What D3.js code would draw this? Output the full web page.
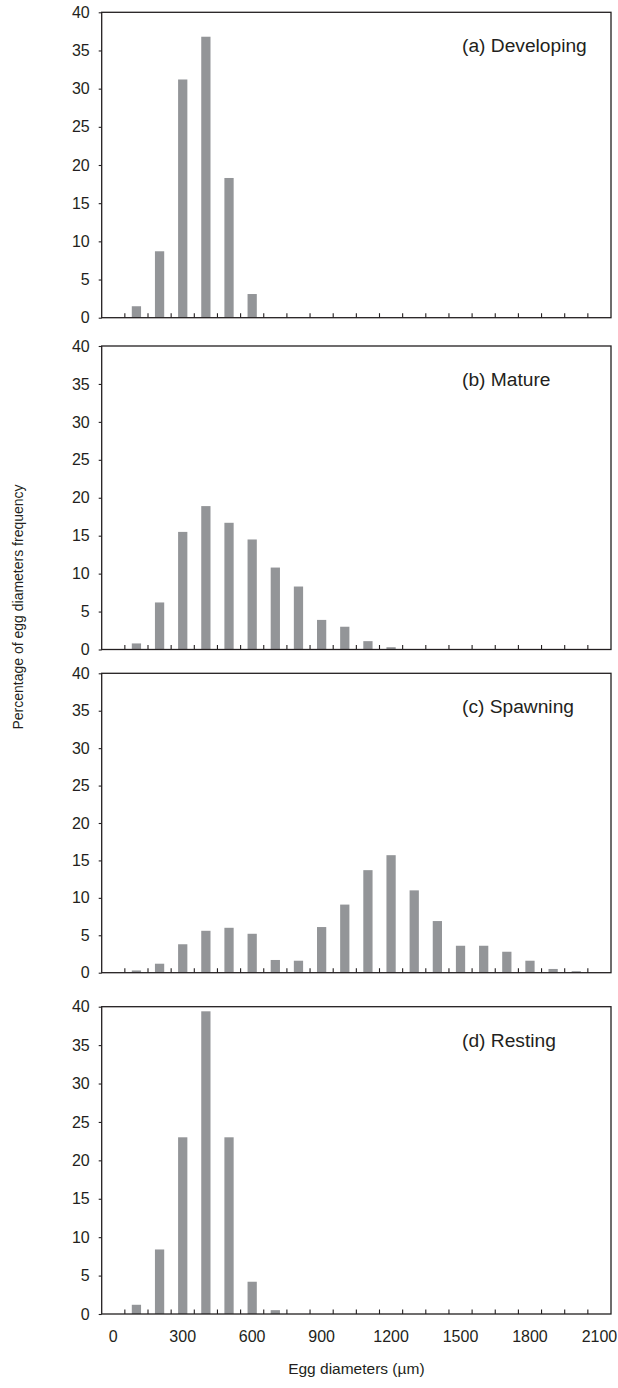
<!DOCTYPE html>
<html>
<head>
<meta charset="utf-8">
<script src="https://cdn.jsdelivr.net/npm/d3@7/dist/d3.min.js"></script>
<style>
  body { margin: 0; background: #fff; }
  svg text { font-family: "Liberation Sans", Arial, sans-serif; fill: #231f20; }
</style>
</head>
<body>
<svg id="chart"></svg>
<script>
// egg diameter classes (um)
let diameters = [0, 100, 200, 300, 400, 500, 600, 700, 800, 900, 1000,
                 1100, 1200, 1300, 1400, 1500, 1600, 1700, 1800, 1900, 2000, 2100];

// % frequency per class, one array per gonad stage
let developing = [0, 1.5, 8.7, 31.2, 36.8, 18.3, 3.1, 0, 0, 0, 0,
                  0, 0, 0, 0, 0, 0, 0, 0, 0, 0, 0];
let mature     = [0, 0.8, 6.2, 15.5, 18.9, 16.7, 14.5, 10.8, 8.3, 3.9, 3.0,
                  1.1, 0.3, 0, 0, 0, 0, 0, 0, 0, 0, 0];
let spawning   = [0, 0.3, 1.2, 3.8, 5.6, 6.0, 5.2, 1.7, 1.6, 6.1, 9.1,
                  13.7, 15.7, 11.0, 6.9, 3.6, 3.6, 2.8, 1.6, 0.5, 0.2, 0];
let resting    = [0, 1.2, 8.4, 23.0, 39.4, 23.0, 4.2, 0.5, 0, 0, 0,
                  0, 0, 0, 0, 0, 0, 0, 0, 0, 0, 0];

let stageLabels = ['(a) Developing', '(b) Mature', '(c) Spawning', '(d) Resting'];
let yTicks = [0, 5, 10, 15, 20, 25, 30, 35, 40];
let xLabelled = [0, 300, 600, 900, 1200, 1500, 1800, 2100];

let w = 618, h = 1388;
let left = 101.7, right = 611;
let ink = '#231f20', barColor = '#939598';

// vertical placement of each panel (top, bottom of plot box)
let panels = [
    {values: developing, top: 12.3,   bottom: 317.7},
    {values: mature,     top: 346,    bottom: 649.5},
    {values: spawning,   top: 673.3,  bottom: 972.7},
    {values: resting,    top: 1006.7, bottom: 1314}
];

let svg = d3.select('#chart')
    .attr('width', w)
    .attr('height', h);

let x = d3.scaleBand()
    .domain(diameters)
    .range([left, right])
    .paddingInner(0.6)
    .paddingOuter(0.3);

let step = x.step();

panels.forEach((p, i) => {

    let y = d3.scaleLinear()
        .domain([0, 40])
        .range([p.bottom, p.top]);

    let g = svg.append('g').attr('class', 'panel');

    // bars
    g.selectAll('rect.bar')
        .data(diameters.map((d, k) => ({d: d, v: p.values[k]})).filter(e => e.v > 0))
        .enter()
        .append('rect')
        .attr('class', 'bar')
        .attr('x', e => x(e.d))
        .attr('y', e => y(e.v))
        .attr('width', x.bandwidth())
        .attr('height', e => y(0) - y(e.v))
        .attr('fill', barColor);

    // y axis
    let yAxis = g.append('g')
        .attr('transform', `translate(${left},0)`)
        .call(d3.axisLeft(y).tickValues(yTicks).tickSize(3).tickPadding(9).tickSizeOuter(0));
    yAxis.select('.domain').remove();
    yAxis.selectAll('line').attr('stroke', ink).attr('stroke-width', 1.1);
    yAxis.selectAll('text').style('font-size', '16px').attr('fill', ink);

    // category boundary ticks, pointing inward
    g.selectAll('line.xtick')
        .data(diameters.slice(1))
        .enter()
        .append('line')
        .attr('class', 'xtick')
        .attr('x1', d => x(d) + x.bandwidth() / 2 - step / 2)
        .attr('x2', d => x(d) + x.bandwidth() / 2 - step / 2)
        .attr('y1', p.bottom)
        .attr('y2', p.bottom - 4.5)
        .attr('stroke', ink)
        .attr('stroke-width', 1.1);

    // frame
    g.append('rect')
        .attr('x', left)
        .attr('y', p.top)
        .attr('width', right - left)
        .attr('height', p.bottom - p.top)
        .attr('fill', 'none')
        .attr('stroke', ink)
        .attr('stroke-width', 1.3);

    g.append('text')
        .attr('x', 462)
        .attr('y', p.top + 40)
        .style('font-size', '19.2px')
        .text(stageLabels[i]);

    // x labels only under the last panel
    if (i === panels.length - 1) {
        g.selectAll('text.xlab')
            .data(xLabelled)
            .enter()
            .append('text')
            .attr('class', 'xlab')
            .attr('x', d => x(d) + x.bandwidth() / 2)
            .attr('y', p.bottom + 27.7)
            .attr('text-anchor', 'middle')
            .style('font-size', '16px')
            .text(d => d);
    }
});

svg.append('text')
    .attr('x', (left + right) / 2)
    .attr('y', 1373.5)
    .attr('text-anchor', 'middle')
    .style('font-size', '15.5px')
    .text('Egg diameters (\u00b5m)');

svg.append('text')
    .attr('transform', 'translate(23,607) rotate(-90)')
    .attr('text-anchor', 'middle')
    .style('font-size', '14px')
    .text('Percentage of egg diameters frequency');
</script>
</body>
</html>
